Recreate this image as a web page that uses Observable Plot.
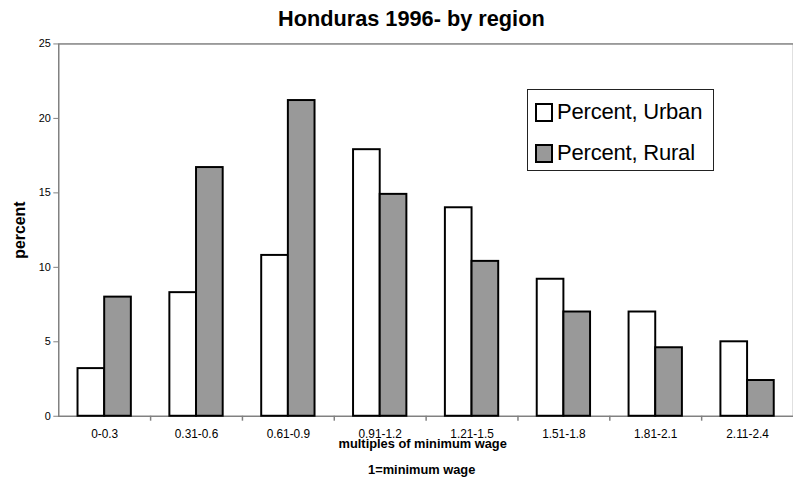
<!DOCTYPE html>
<html>
<head>
<meta charset="utf-8">
<script src="https://cdn.jsdelivr.net/npm/d3@7"></script>
<script src="https://cdn.jsdelivr.net/npm/@observablehq/plot@0.6"></script>
<style>
  html, body { margin: 0; padding: 0; background: #fff; overflow: hidden; width: 793px; height: 483px; }
  #wrap { position: relative; width: 793px; height: 483px; overflow: hidden; font-family: "Liberation Sans", Arial, sans-serif; }
  #legend { position: absolute; left: 527px; top: 89px; width: 187px; height: 82px; box-sizing: border-box; border: 1px solid #222; background: #fff; }
  .row { position: absolute; left: 7px; display: flex; align-items: center; font-size: 22px; color: #000; letter-spacing: -0.2px; white-space: nowrap; }
  .sw { width: 14px; height: 15px; border: 2px solid #000; margin-right: 4px; }
</style>
</head>
<body>
<div id="wrap"></div>
<script>
const categories = ["0-0.3", "0.31-0.6", "0.61-0.9", "0.91-1.2", "1.21-1.5", "1.51-1.8", "1.81-2.1", "2.11-2.4"];
const urban = [3.2, 8.3, 10.8, 17.9, 14.0, 9.2, 7.0, 5.0];
const rural = [8.0, 16.7, 21.2, 14.9, 10.4, 7.0, 4.6, 2.4];
const seriesNames = ["Percent, Urban", "Percent, Rural"];
const seriesFills = ["#ffffff", "#999999"];
const yTicks = [0, 5, 10, 15, 20, 25];
const title = "Honduras 1996- by region";
const yLabel = "percent";
const xLabel1 = "multiples of minimum wage";
const xLabel2 = "1=minimum wage";

const urbanData = categories.map((c, i) => ({cat: c, value: urban[i]}));
const ruralData = categories.map((c, i) => ({cat: c, value: rural[i]}));

const font = "'Liberation Sans', Arial, sans-serif";
const step = 93, barW = 27, side = (step - 2 * barW) / 2;

const chart = Plot.plot({
  width: 803,
  height: 483,
  marginLeft: 59,
  marginRight: 0,
  marginTop: 44,
  marginBottom: 62,
  style: {fontFamily: font, color: "#000", background: "#fff"},
  x: {domain: categories, padding: 0},
  y: {domain: [0, 25]},
  marks: [
    Plot.frame({stroke: "#808080", strokeWidth: 1.5}),
    Plot.barY(urbanData, {x: "cat", y: "value", fill: seriesFills[0], stroke: "#000", strokeWidth: 2, insetLeft: side, insetRight: side + barW}),
    Plot.barY(ruralData, {x: "cat", y: "value", fill: seriesFills[1], stroke: "#000", strokeWidth: 2, insetLeft: side + barW, insetRight: side}),
    Plot.ruleX(categories.slice(1), {x: d => d, dx: -step / 2, y1: 0, y2: 0, insetBottom: -5, stroke: "#808080", strokeWidth: 1.5}),
    Plot.axisY({ticks: yTicks, tickSize: 5, tickPadding: 3, fontSize: 11, stroke: "#808080", label: null}),
    Plot.axisX({tickSize: 0, tickPadding: 13, fontSize: 12, label: null}),
    Plot.text([title], {frameAnchor: "top", dx: -15, dy: -25, fontSize: 22, fontWeight: "bold", lineAnchor: "middle", textAnchor: "middle"}),
    Plot.text([yLabel], {frameAnchor: "left", dx: -39, rotate: -90, fontSize: 16, fontWeight: "bold", lineAnchor: "middle", textAnchor: "middle"}),
    Plot.text([xLabel1], {frameAnchor: "bottom", dx: -3.5, dy: 27.5, fontSize: 13, fontWeight: "bold", lineAnchor: "middle", textAnchor: "middle"}),
    Plot.text([xLabel2], {frameAnchor: "bottom", dx: -4.5, dy: 54, fontSize: 13, fontWeight: "bold", lineAnchor: "middle", textAnchor: "middle"})
  ]
});

const wrap = document.getElementById("wrap");
wrap.appendChild(chart);

const legend = document.createElement("div");
legend.id = "legend";
seriesNames.forEach((name, i) => {
  const row = document.createElement("div");
  row.className = "row";
  row.style.top = (i === 0 ? 9 : 50) + "px";
  const sw = document.createElement("span");
  sw.className = "sw";
  sw.style.background = seriesFills[i];
  const t = document.createElement("span");
  t.textContent = name;
  row.appendChild(sw);
  row.appendChild(t);
  legend.appendChild(row);
});
wrap.appendChild(legend);
</script>
</body>
</html>
